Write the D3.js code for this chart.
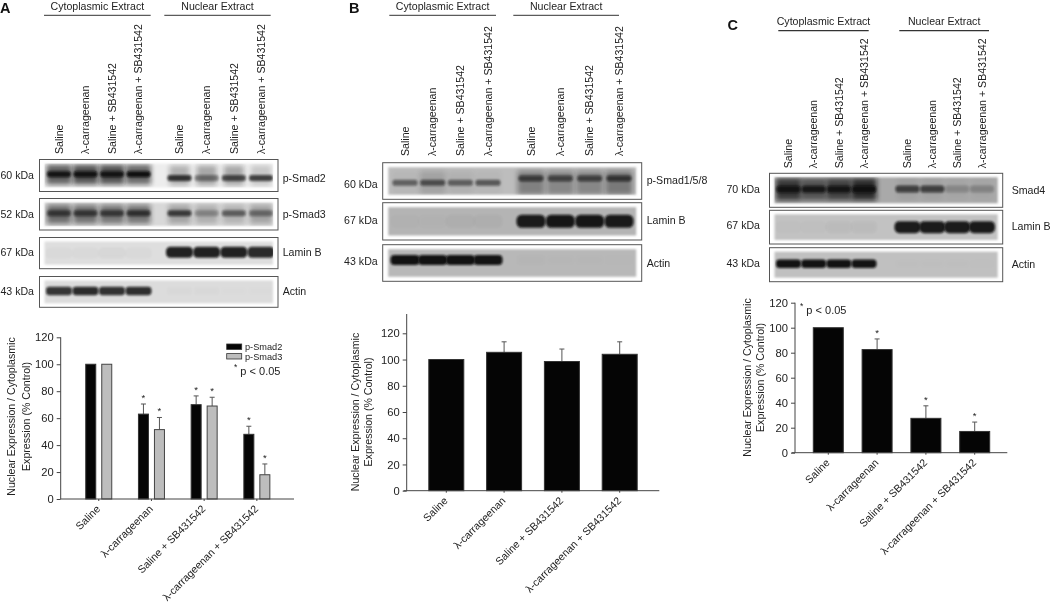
<!DOCTYPE html>
<html><head><meta charset="utf-8">
<script src="https://cdn.jsdelivr.net/npm/d3@7"></script>
<style>
html,body{margin:0;padding:0;background:#fff}
svg{display:block;filter:blur(.4px)}
text{font-family:"Liberation Sans",Arial,sans-serif;fill:#222}
</style></head><body>
<svg id="c" width="1050" height="603"></svg>
<script>
// ---------- chart data ----------
const conditions = ["Saline","λ-carrageenan","Saline + SB431542","λ-carrageenan + SB431542"];
const extracts = ["Cytoplasmic Extract","Nuclear Extract"];
const yTicks = [0,20,40,60,80,100,120];
const yTitle = ["Nuclear Expression / Cytoplasmic","Expression (% Control)"];
const pNote = "p < 0.05";

const aSmad2 = [100,63,70,48];
const aSmad2Top = [100,70.5,76.5,54];
const aSmad2Sig = [false,true,true,true];
const aSmad3 = [100,51.5,69,18];
const aSmad3Top = [100,60.5,75.5,26];
const aSmad3Sig = [false,true,true,true];
const bValues = [100,105.5,98.5,104];
const bTop = [100,113.5,108,113.5];
const bSig = [false,false,false,false];
const cValues = [100,82.5,27.5,17];
const cTop = [100,91,37.5,24.5];
const cSig = [false,true,true,true];

// blot densitometry: 8 lanes, 0 = no signal, 1 = black
const aSmad2Band = [.9,.92,.9,.97,.78,.42,.66,.72];
const aSmad2Smear = [.62,.68,.68,.58,.26,.3,.3,.16];
const aSmad3Band = [.6,.62,.62,.68,.7,.28,.52,.42];
const aSmad3Smear = [.52,.5,.48,.48,.26,.2,.18,.26];
const lamin = [.02,.02,.03,.02,.9,.9,.9,.86];
const actin = [.8,.85,.82,.84,.01,.01,.005,.005];
const bSmadBand = [.5,.58,.5,.55,.62,.58,.6,.66];
const bSmadSmear = [.03,.14,.06,.03,.34,.3,.3,.38];
const bLamin = [.01,.01,.03,.03,.92,.94,.94,.92];
const bActin = [.97,.97,.97,.96,.01,.005,.005,.005];
const cSmadBand = [.85,.85,.85,.9,.66,.66,.2,.22];
const cSmadSmear = [.72,.55,.66,.8,.04,.04,.02,.02];
const cLamin = [.01,.01,.03,.03,.92,.92,.92,.92];
const cActin = [.97,.97,.97,.96,.005,.005,.005,.005];

// ---------- layout ----------
const svg = d3.select("#c");
const defs = svg.append("defs");
[["bl1",1.1],["bl2",2.4],["bg",1]].forEach(([id,s])=>{
  defs.append("filter").attr("id",id).attr("x","-30%").attr("y","-60%").attr("width","160%").attr("height","220%")
    .append("feGaussianBlur").attr("stdDeviation",s);
});
let clipN = 0;
const FS = "10.6px";

function drawHeader(o){
  svg.append("text").text(o.letter).attr("x",o.letterX).attr("y",o.letterY)
    .style("font-size","14.5px").style("font-weight","bold").style("fill","#111");
  extracts.forEach((t,i)=>{
    const [x0,x1]=o.rules[i];
    svg.append("text").text(t).attr("x",(x0+x1)/2).attr("y",o.headY).attr("text-anchor","middle").style("font-size",FS);
    svg.append("line").attr("x1",x0).attr("x2",x1).attr("y1",o.ruleY).attr("y2",o.ruleY).attr("stroke","#333").attr("stroke-width",o.ruleW||1);
  });
  o.laneScales.forEach(s=>{
    conditions.forEach(c=>{
      svg.append("text").text(c).attr("transform",`translate(${s(c)},${o.laneBottom}) rotate(-90)`)
        .attr("dy",".35em").style("font-size",FS);
    });
  });
}

function drawBlot(o,b){
  const g = svg.append("g");
  const w = o.frameX[1]-o.frameX[0], h = b.y1-b.y0, inset=o.inset;
  g.append("rect").attr("x",o.frameX[0]).attr("y",b.y0).attr("width",w).attr("height",h)
    .attr("fill","#fff").attr("stroke","#555").attr("stroke-width",1);
  const cid="cl"+(clipN++);
  defs.append("clipPath").attr("id",cid).append("rect").attr("x",o.frameX[0]+inset).attr("y",b.y0+inset-1)
    .attr("width",w-inset*2).attr("height",h-inset*2+2);
  g.append("rect").attr("x",o.frameX[0]+inset).attr("y",b.y0+inset-1).attr("width",w-inset*2).attr("height",h-inset*2+2)
    .attr("fill",b.bg).attr("filter","url(#bg)");
  const lanes = g.append("g").attr("clip-path",`url(#${cid})`);
  const items = [];
  o.laneScales.forEach((s,gi)=>conditions.forEach(c=>items.push({x:s(c),g:gi})));
  if(b.smear){
    lanes.selectAll(".sm").data(items).join("rect")
      .attr("x",(d)=>d.x-b.sw[d.g]/2).attr("width",(d)=>b.sw[d.g])
      .attr("y",(d)=>b.y0+h*b.sy[d.g]-b.sh/2).attr("height",b.sh)
      .attr("fill","#111").attr("opacity",(d,i)=>b.smear[i]).attr("filter","url(#bl2)");
  }
  lanes.selectAll(".bd").data(items).join("rect")
    .attr("x",(d)=>d.x-b.w/2).attr("width",b.w)
    .attr("y",(d)=>b.y0+h*b.by[d.g]-b.bh/2).attr("height",b.bh).attr("rx",b.bh/2.5)
    .attr("fill","#0a0a0a").attr("opacity",(d,i)=>b.band[i]).attr("filter","url(#bl1)");
  svg.append("text").text(b.kda).attr("x",o.kdaX).attr("y",b.y0+h*b.ky).attr("dy",".35em").attr("text-anchor","end").style("font-size",FS);
  svg.append("text").text(b.name).attr("x",o.nameX).attr("y",b.y0+h*b.ny).attr("dy",".35em").style("font-size",FS);
}

function drawChart(o){
  const y = d3.scaleLinear().domain([0,120]).range([o.y0,o.y120]);
  const x = d3.scaleBand().domain(conditions).range(o.xRange);
  const gY = svg.append("g").attr("transform",`translate(${o.axisX},0)`)
    .call(d3.axisLeft(y).tickValues(yTicks).tickSize(4).tickPadding(3).tickSizeOuter(0));
  gY.select(".domain").remove();
  gY.selectAll("line").attr("stroke","#444");
  gY.selectAll("text").style("font-size","11.2px").style("font-family",'"Liberation Sans"');
  const gX = svg.append("g").attr("transform",`translate(0,${o.y0})`)
    .call(d3.axisBottom(x).tickSize(2).tickPadding(6).tickSizeOuter(0));
  gX.select(".domain").remove();
  gX.selectAll("line").attr("stroke","#444");
  gX.selectAll("text").attr("text-anchor","end").attr("transform","rotate(-45)").attr("dx",o.lblDx).attr("dy",o.lblDy)
    .style("font-size",FS).style("font-family",'"Liberation Sans"');

  o.series.forEach(s=>{
    const cx = c=>x(c)+x.bandwidth()/2+s.off;
    const bars = svg.append("g");
    conditions.forEach((c,i)=>{
      const top=y(s.top[i]);
      if(s.top[i]>s.values[i]){
        bars.append("line").attr("x1",cx(c)).attr("x2",cx(c)).attr("y1",y(s.values[i])).attr("y2",top).attr("stroke","#555").attr("stroke-width",1);
        bars.append("line").attr("x1",cx(c)-2.5).attr("x2",cx(c)+2.5).attr("y1",top).attr("y2",top).attr("stroke","#555").attr("stroke-width",1);
      }
      bars.append("rect").attr("x",cx(c)-o.barW/2).attr("width",o.barW)
        .attr("y",y(s.values[i])).attr("height",y(0)-y(s.values[i]))
        .attr("fill",s.fill).attr("stroke",s.stroke).attr("stroke-width",1);
      if(s.sig[i]) svg.append("text").text("*").attr("x",cx(c)).attr("y",top-3).attr("text-anchor","middle").style("font-size","9.5px");
    });
  });
  svg.append("line").attr("x1",o.baseX[0]).attr("x2",o.baseX[1]).attr("y1",o.y0).attr("y2",o.y0).attr("stroke","#444").attr("stroke-width",1);
  svg.append("line").attr("x1",o.axisX).attr("x2",o.axisX).attr("y1",o.y0).attr("y2",o.yTopLine).attr("stroke","#444").attr("stroke-width",1);

  yTitle.forEach((t,i)=>{
    svg.append("text").text(t).attr("transform",`translate(${o.titleX[i]},${o.titleY}) rotate(-90)`)
      .attr("text-anchor","middle").attr("dy",".35em").style("font-size",FS);
  });
  if(o.note){
    const n=svg.append("text").attr("x",o.note[0]).attr("y",o.note[1]).attr("dy",".35em").style("font-size","11px");
    n.append("tspan").text("*").style("font-size","8.5px").attr("dy","-.1em");
    n.append("tspan").text(" "+pNote).attr("dy",".45em");
  }
}

// ---------- panel A ----------
const aLanes=[d3.scalePoint().domain(conditions).range([59,138.5]),d3.scalePoint().domain(conditions).range([179.5,261])];
const pa={letter:"A",letterX:0,letterY:13.2,headY:9.8,ruleY:15.3,rules:[[44,150.7],[164.3,270.7]],laneScales:aLanes,laneBottom:154,
  frameX:[39.5,278],inset:5,kdaX:34,nameX:282.7};
drawHeader(pa);
[
 {y0:159.5,y1:191.5,kda:"60 kDa",name:"p-Smad2",bg:"#ededed",band:aSmad2Band,smear:aSmad2Smear,sy:[.47,.5],sh:20,sw:[25,20],by:[.46,.58],bh:6,w:24,ky:.48,ny:.6},
 {y0:198.5,y1:230,kda:"52 kDa",name:"p-Smad3",bg:"#d8d8d8",band:aSmad3Band,smear:aSmad3Smear,sy:[.5,.5],sh:19,sw:[24,22],by:[.47,.47],bh:6,w:24,ky:.5,ny:.5},
 {y0:237.5,y1:268.7,kda:"67 kDa",name:"Lamin B",bg:"#dedede",band:lamin,by:[.5,.47],bh:11,w:27,ky:.48,ny:.48},
 {y0:276.5,y1:307.3,kda:"43 kDa",name:"Actin",bg:"#dcdcdc",band:actin,by:[.47,.47],bh:8.5,w:26,ky:.47,ny:.47}
].forEach(b=>drawBlot(pa,b));
drawChart({y0:499,y120:337.3,yTopLine:337.3,axisX:60.7,xRange:[72.4,283.2],baseX:[60.7,294],barW:10,lblDx:"-6px",lblDy:"1px",
  titleX:[11.7,26],titleY:416.5,
  series:[{values:aSmad2,top:aSmad2Top,sig:aSmad2Sig,off:-8,fill:"#050505",stroke:"#333"},
          {values:aSmad3,top:aSmad3Top,sig:aSmad3Sig,off:8,fill:"#bdbdbd",stroke:"#444"}]});
const legA=svg.append("g");
[["p-Smad2","#050505"],["p-Smad3","#bdbdbd"]].forEach(([t,f])=>{
  const ly=d3.scalePoint().domain(["p-Smad2","p-Smad3"]).range([346.7,356.3])(t);
  legA.append("rect").attr("x",226.7).attr("y",ly-2.7).attr("width",15).attr("height",5.4).attr("fill",f).attr("stroke","#333").attr("stroke-width",.8);
  legA.append("text").text(t).attr("x",245).attr("y",ly).attr("dy",".35em").style("font-size","9.2px");
});
{const n=svg.append("text").attr("x",234).attr("y",370.5).attr("dy",".35em").style("font-size","11px");
 n.append("tspan").text("*").style("font-size","8.5px").attr("dy","-.1em");
 n.append("tspan").text(" "+pNote).attr("dy",".45em");}

// ---------- panel B ----------
const bLanes=[d3.scalePoint().domain(conditions).range([405,488]),d3.scalePoint().domain(conditions).range([531,619])];
const pb={letter:"B",letterX:349,letterY:13.2,headY:9.8,ruleY:15.3,rules:[[389.3,496],[513.3,619]],laneScales:bLanes,laneBottom:156,
  frameX:[382.7,641.7],inset:5.5,kdaX:377.7,nameX:646.7};
drawHeader(pb);
[
 {y0:162.7,y1:199.3,kda:"60 kDa",name:"p-Smad1/5/8",bg:"#bdbdbd",band:bSmadBand,smear:bSmadSmear,sy:[.55,.55],sh:24,sw:[26,27],by:[.55,.43],bh:6,w:25,ky:.58,ny:.48},
 {y0:202.7,y1:240,kda:"67 kDa",name:"Lamin B",bg:"#b4b4b4",band:bLamin,by:[.5,.5],bh:13,w:29,ky:.48,ny:.47},
 {y0:244.7,y1:281.3,kda:"43 kDa",name:"Actin",bg:"#b8b8b8",band:bActin,by:[.42,.42],bh:10,w:29,ky:.44,ny:.5}
].forEach(b=>drawBlot(pb,b));
drawChart({y0:490.7,y120:333.3,yTopLine:314,axisX:406.7,xRange:[417.4,648.6],baseX:[403.5,659.3],barW:35,lblDx:"-6px",lblDy:"1px",
  titleX:[355.3,368.3],titleY:412,
  series:[{values:bValues,top:bTop,sig:bSig,off:0,fill:"#050505",stroke:"#333"}]});

// ---------- panel C ----------
const cLanes=[d3.scalePoint().domain(conditions).range([788.5,864]),d3.scalePoint().domain(conditions).range([907.5,982])];
const pc={letter:"C",letterX:727.5,letterY:30,headY:25,ruleY:30.7,ruleW:1.3,rules:[[778.3,868.7],[899.3,989]],laneScales:cLanes,laneBottom:168.3,
  frameX:[769.5,1002.7],inset:5,kdaX:760,nameX:1011.7};
drawHeader(pc);
[
 {y0:173.3,y1:207.3,kda:"70 kDa",name:"Smad4",bg:"#a9a9a9",band:cSmadBand,smear:cSmadSmear,sy:[.47,.45],sh:22,sw:[25,20],by:[.47,.46],bh:7,w:24,ky:.47,ny:.5},
 {y0:210.3,y1:244,kda:"67 kDa",name:"Lamin B",bg:"#c2c2c2",band:cLamin,by:[.5,.5],bh:12,w:26,ky:.45,ny:.47},
 {y0:247.7,y1:281.7,kda:"43 kDa",name:"Actin",bg:"#c0c0c0",band:cActin,by:[.47,.47],bh:8.5,w:25,ky:.45,ny:.48}
].forEach(b=>drawBlot(pc,b));
drawChart({y0:452.7,y120:302.7,yTopLine:302.7,axisX:795,xRange:[803.9,999.1],baseX:[791.7,1007.3],barW:30,lblDx:"-6px",lblDy:"1px",
  titleX:[747,760.5],titleY:377.5,
  note:[800,310],
  series:[{values:cValues,top:cTop,sig:cSig,off:0,fill:"#050505",stroke:"#333"}]});
</script></body></html>
